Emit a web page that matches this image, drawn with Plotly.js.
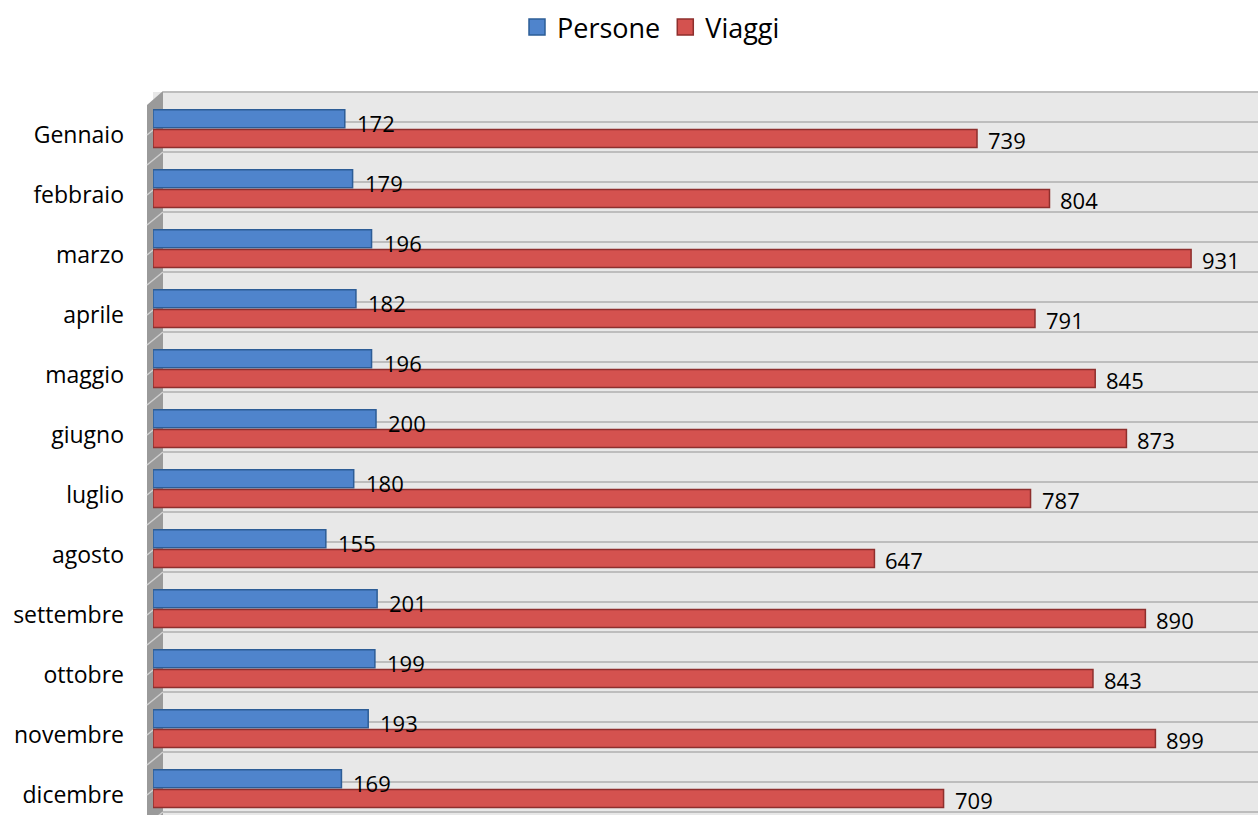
<!DOCTYPE html>
<html>
<head>
<meta charset="utf-8">
<script src="https://cdn.plot.ly/plotly-3.0.1.min.js"></script>
<style>html,body{margin:0;padding:0;background:#fff;}#chart{width:1258px;height:815px;}</style>
</head>
<body>
<div id="chart"></div>
<script>
const months = ["Gennaio","febbraio","marzo","aprile","maggio","giugno","luglio","agosto","settembre","ottobre","novembre","dicembre"];
const persone = [172,179,196,182,196,200,180,155,201,199,193,169];
const viaggi = [739,804,931,791,845,873,787,647,890,843,899,709];

const W = 1258, H = 815, L = 153, T = 92;
const plotW = W - L, plotH = H - T;
const px = p => (p - L) / plotW;           // pixel x -> paper x
const py = p => 1 - (p - T) / plotH;       // pixel y -> paper y

const font = "'Open Sans', 'Noto Sans', sans-serif";
const blue = '#4f84cc', blueLine = '#2d5d96';
const red = '#d4524f', redLine = '#8e2f2d';

const traces = [
  {type:'bar', orientation:'h', name:'Persone', y:months, x:persone,
   offset:-0.42, width:0.3, showlegend:false,
   marker:{color:blue, line:{color:blueLine, width:1.5}},
   hoverinfo:'x+name'},
  {type:'bar', orientation:'h', name:'Viaggi', y:months, x:viaggi,
   offset:-0.09, width:0.3, showlegend:false,
   marker:{color:red, line:{color:redLine, width:1.5}},
   hoverinfo:'x+name'},
  // legend entries with larger square keys
  {type:'scatter', mode:'markers', name:'Persone', x:[null], y:[null], showlegend:true,
   marker:{symbol:'square', size:17, color:blue, line:{color:blueLine, width:1.5}}},
  {type:'scatter', mode:'markers', name:'Viaggi', x:[null], y:[null], showlegend:true,
   marker:{symbol:'square', size:17, color:red, line:{color:redLine, width:1.5}}}
];

const shapes = [];
// left wall
shapes.push({type:'path', xref:'paper', yref:'paper', layer:'below',
  path:`M ${px(147)},${py(105)} L ${px(163)},${py(91)} L ${px(163)},${py(815)} L ${px(147)},${py(815)} Z`,
  fillcolor:'#9a9a9a', line:{width:0}});
// horizontal grid lines every half category
for (let k = 0; k < 25; k++) {
  const y = 92 + 30 * k;
  shapes.push({type:'line', xref:'paper', yref:'paper', layer:'below',
    x0:px(163), x1:1, y0:py(y), y1:py(y), line:{color:'#bdbdbd', width:2}});
  if (k > 0) shapes.push({type:'line', xref:'paper', yref:'paper', layer:'below',
    x0:px(147), x1:px(163), y0:py(y+13), y1:py(y), line:{color:'#cfcfcf', width:1.5}});
}

const annotations = [];
months.forEach((m, i) => {
  annotations.push({x:persone[i], y:m, xref:'x', yref:'y', text:String(persone[i]),
    showarrow:false, xanchor:'left', yanchor:'middle', xshift:10, yshift:12,
    font:{family:font, size:22, color:'#000'}});
  annotations.push({x:viaggi[i], y:m, xref:'x', yref:'y', text:String(viaggi[i]),
    showarrow:false, xanchor:'left', yanchor:'middle', xshift:9, yshift:-5,
    font:{family:font, size:22, color:'#000'}});
});

const layout = {
  width:W, height:H,
  margin:{l:L, r:0, t:T, b:0, pad:0},
  paper_bgcolor:'#ffffff', plot_bgcolor:'#e8e8e8',
  barmode:'group',
  showlegend:true,
  legend:{orientation:'h', x:px(651), xanchor:'center', y:py(3), yanchor:'top',
    font:{family:font, size:27, color:'#000'}, traceorder:'normal', itemclick:false},
  xaxis:{range:[0, 991], showgrid:false, zeroline:false, showticklabels:false, showline:false, fixedrange:true},
  yaxis:{type:'category', categoryorder:'array', categoryarray:months,
    range:[11 + 20/60, -43/60], showgrid:false, zeroline:false, showline:false,
    ticks:'', ticklabelstandoff:28,
    tickfont:{family:font, size:23, color:'#000'}, fixedrange:true},
  shapes:shapes, annotations:annotations,
  font:{family:font}
};

Plotly.newPlot('chart', traces, layout, {displayModeBar:false, staticPlot:true});
</script>
</body>
</html>
